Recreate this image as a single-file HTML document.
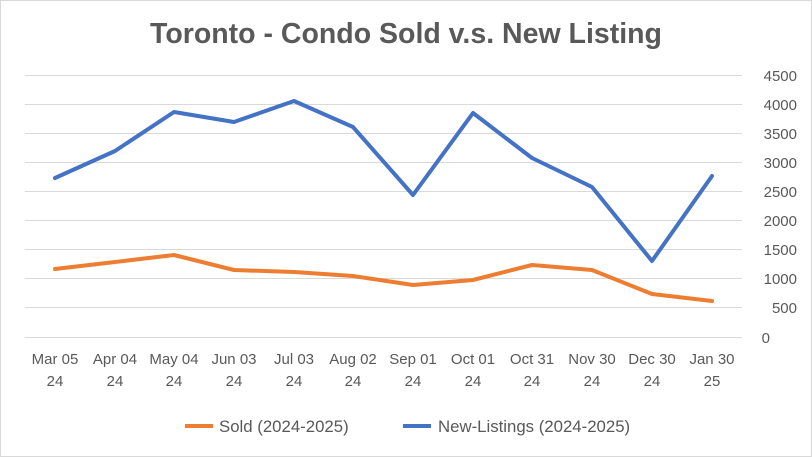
<!DOCTYPE html>
<html><head><meta charset="utf-8"><style>
html,body{margin:0;padding:0;background:#fff;}
svg{display:block;font-family:"Liberation Sans",sans-serif;}
</style></head><body>
<svg width="812" height="457" viewBox="0 0 812 457">
<rect x="0.5" y="0.5" width="811" height="456" fill="#fff" stroke="#d9d9d9"/>
<text x="406" y="43" text-anchor="middle" font-size="28.5" font-weight="bold" fill="#595959">Toronto - Condo Sold v.s. New Listing</text>
<g stroke="#d9d9d9" stroke-width="1">
<line x1="25" x2="742" y1="75.5" y2="75.5"/><line x1="25" x2="742" y1="104.5" y2="104.5"/>
<line x1="25" x2="742" y1="133.5" y2="133.5"/><line x1="25" x2="742" y1="162.5" y2="162.5"/>
<line x1="25" x2="742" y1="191.5" y2="191.5"/><line x1="25" x2="742" y1="220.5" y2="220.5"/>
<line x1="25" x2="742" y1="249.5" y2="249.5"/><line x1="25" x2="742" y1="278.5" y2="278.5"/>
<line x1="25" x2="742" y1="307.5" y2="307.5"/><line x1="25" x2="742" y1="337.5" y2="337.5"/>
</g>
<g font-size="15" fill="#595959" text-anchor="end">
<text x="797" y="81">4500</text><text x="797" y="110">4000</text><text x="797" y="139">3500</text>
<text x="797" y="168">3000</text><text x="797" y="197">2500</text><text x="797" y="226">2000</text>
<text x="797" y="255">1500</text><text x="797" y="284">1000</text><text x="797" y="313">500</text>
<text x="770" y="343">0</text>
</g>
<g font-size="15" fill="#595959" text-anchor="middle">
<text x="55" y="364">Mar 05</text><text x="55" y="386">24</text>
<text x="115" y="364">Apr 04</text><text x="115" y="386">24</text>
<text x="174" y="364">May 04</text><text x="174" y="386">24</text>
<text x="234" y="364">Jun 03</text><text x="234" y="386">24</text>
<text x="294" y="364">Jul 03</text><text x="294" y="386">24</text>
<text x="353" y="364">Aug 02</text><text x="353" y="386">24</text>
<text x="413" y="364">Sep 01</text><text x="413" y="386">24</text>
<text x="473" y="364">Oct 01</text><text x="473" y="386">24</text>
<text x="532" y="364">Oct 31</text><text x="532" y="386">24</text>
<text x="592" y="364">Nov 30</text><text x="592" y="386">24</text>
<text x="652" y="364">Dec 30</text><text x="652" y="386">24</text>
<text x="712" y="364">Jan 30</text><text x="712" y="386">25</text>
</g>
<polyline fill="none" stroke="#4472c4" stroke-width="4" stroke-linejoin="round" stroke-linecap="round" points="55,178 115,151 174,112 234,122 294,101 353,127 413,195 473,113 532,158 592,187 652,261 712,176"/>
<polyline fill="none" stroke="#ed7d31" stroke-width="4" stroke-linejoin="round" stroke-linecap="round" points="55,269 115,262 174,255 234,270 294,272 353,276 413,285 473,280 532,265 592,270 652,294 712,301"/>
<line x1="185" x2="213" y1="426" y2="426" stroke="#ed7d31" stroke-width="4"/>
<text x="219" y="432" font-size="16.8" fill="#595959">Sold (2024-2025)</text>
<line x1="403" x2="431" y1="426" y2="426" stroke="#4472c4" stroke-width="4"/>
<text x="438" y="432" font-size="16.8" fill="#595959">New-Listings (2024-2025)</text>
</svg>
</body></html>
